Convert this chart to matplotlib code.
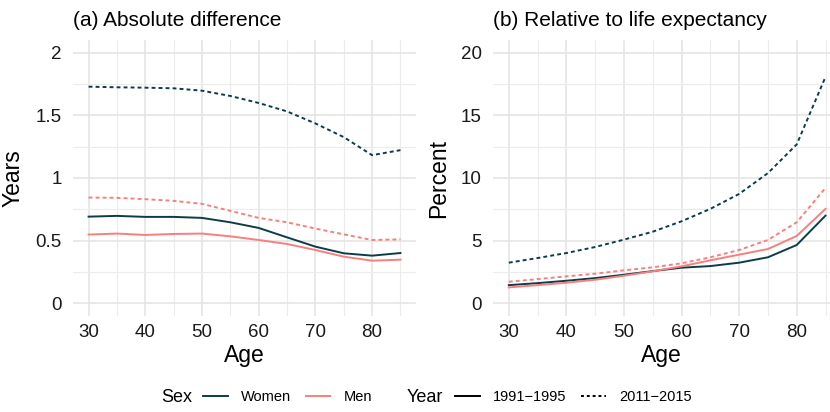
import matplotlib
matplotlib.use('Agg')
import matplotlib.pyplot as plt
from matplotlib.lines import Line2D
from matplotlib.ticker import MultipleLocator

plt.rcParams['font.family'] = ['Liberation Sans', 'DejaVu Sans']

# data
ages = [30, 35, 40, 45, 50, 55, 60, 65, 70, 75, 80, 85]

# (a) absolute difference, years
abs_women_9195 = [0.692, 0.698, 0.690, 0.690, 0.682, 0.647, 0.602, 0.527, 0.453, 0.400, 0.381, 0.402]
abs_men_9195 = [0.549, 0.557, 0.546, 0.554, 0.557, 0.535, 0.506, 0.474, 0.426, 0.373, 0.341, 0.349]
abs_women_1115 = [1.728, 1.723, 1.720, 1.715, 1.696, 1.654, 1.598, 1.531, 1.435, 1.326, 1.182, 1.222]
abs_men_1115 = [0.844, 0.842, 0.831, 0.818, 0.794, 0.738, 0.682, 0.647, 0.597, 0.551, 0.506, 0.511]

# (b) relative to life expectancy, percent
rel_women_9195 = [1.46, 1.62, 1.81, 2.02, 2.29, 2.58, 2.85, 2.98, 3.25, 3.68, 4.66, 7.00]
rel_men_9195 = [1.28, 1.46, 1.65, 1.89, 2.21, 2.56, 2.96, 3.44, 3.89, 4.34, 5.38, 7.54]
rel_women_1115 = [3.25, 3.62, 4.02, 4.50, 5.09, 5.72, 6.55, 7.54, 8.73, 10.39, 12.68, 18.06]
rel_men_1115 = [1.73, 1.94, 2.16, 2.37, 2.64, 2.88, 3.20, 3.68, 4.26, 5.06, 6.47, 9.21]

c_women = '#0b3c49'
c_men = '#f87f7f'
dotted = (0, (2.0, 1.6))
lw = 1.4

W, H = 830, 412
fig = plt.figure(figsize=(W / 100, H / 100), dpi=100)

def box(l, r, t, b):
    return [l / W, 1 - b / H, (r - l) / W, (b - t) / H]

ax1 = fig.add_axes(box(73, 416, 40, 316))
ax2 = fig.add_axes(box(493, 830, 40, 316))

def style(ax, ymax, ystep, xr):
    ax.set_xlim(27.25, xr)
    ax.set_ylim(-0.05 * ymax, 1.05 * ymax)
    ax.xaxis.set_major_locator(MultipleLocator(10))
    ax.xaxis.set_minor_locator(MultipleLocator(5))
    ax.yaxis.set_major_locator(MultipleLocator(ystep))
    ax.yaxis.set_minor_locator(MultipleLocator(ystep / 2))
    ax.grid(True, which='major', color='#e3e3e3', lw=1.1)
    ax.grid(True, which='minor', color='#ececec', lw=0.8)
    ax.set_axisbelow(True)
    for s in ax.spines.values():
        s.set_visible(False)
    ax.tick_params(which='both', length=0, labelsize=13.5, colors='#1a1a1a', pad=6)
    ax.tick_params(axis='y', pad=8)
    ax.set_xlabel('Age', fontsize=16.5, labelpad=2)

style(ax1, 2, 0.5, 87.75)
ax1.yaxis.set_major_formatter(plt.FuncFormatter(lambda v, p: f'{v:g}'))
style(ax2, 20, 5, 85.78)

ax1.plot(ages, abs_women_1115, color=c_women, lw=lw, ls=dotted)
ax1.plot(ages, abs_men_1115, color=c_men, lw=lw, ls=dotted)
ax1.plot(ages, abs_women_9195, color=c_women, lw=lw)
ax1.plot(ages, abs_men_9195, color=c_men, lw=lw)

ax2.plot(ages, rel_women_1115, color=c_women, lw=lw, ls=dotted)
ax2.plot(ages, rel_men_1115, color=c_men, lw=lw, ls=dotted)
ax2.plot(ages, rel_women_9195, color=c_women, lw=lw)
ax2.plot(ages, rel_men_9195, color=c_men, lw=lw)

ax1.set_ylabel('Years', fontsize=16.5, labelpad=8)
ax2.set_ylabel('Percent', fontsize=16.5, labelpad=8)
ax1.set_title('(a) Absolute difference', loc='left', fontsize=15, pad=10)
ax2.set_title('(b) Relative to life expectancy', loc='left', fontsize=15, pad=10)

# legends
ly = 1 - 397 / H
fig.text(161 / W, ly, 'Sex', fontsize=13, va='center')
fig.text(407 / W, ly, 'Year', fontsize=13, va='center')
sex_handles = [Line2D([], [], color=c_women, lw=lw), Line2D([], [], color=c_men, lw=lw)]
year_handles = [Line2D([], [], color='black', lw=lw), Line2D([], [], color='black', lw=lw, ls=(0, (1.5, 1.5)))]
leg_kw = dict(ncol=2, frameon=False, fontsize=10.5, handlelength=1.7, handletextpad=0.9,
              columnspacing=1.0, loc='center left', borderaxespad=0, borderpad=0)
fig.legend(sex_handles, ['Women', 'Men'], bbox_to_anchor=(203 / W, ly), **leg_kw)
fig.legend(year_handles, ['1991\u22121995', '2011\u22122015'], bbox_to_anchor=(455 / W, ly), **leg_kw)

fig.savefig('out.png', dpi=100, facecolor='white')
